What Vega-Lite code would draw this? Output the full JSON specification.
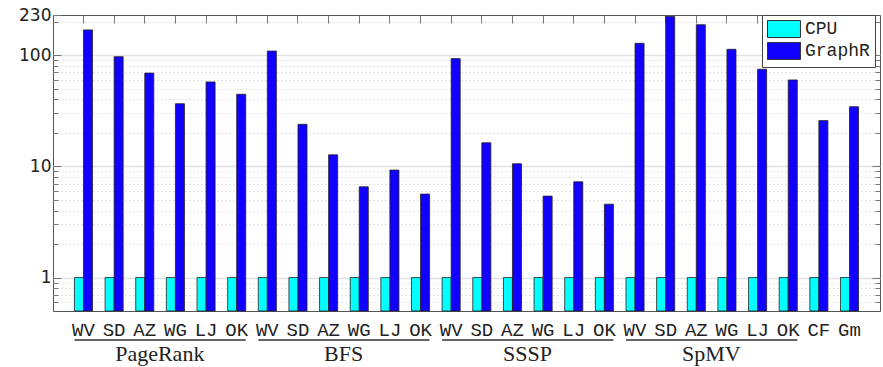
{
  "$schema": "https://vega.github.io/schema/vega-lite/v6.json",
  "autosize": "none",
  "width": 827,
  "height": 296,
  "padding": {"left": 53, "top": 15, "right": 3, "bottom": 56},
  "background": "white",
  "config": {
    "view": {"stroke": "#555", "strokeWidth": 1},
    "axis": {"domain": false, "title": null}
  },
  "datasets": {
    "speed": [
      {"group":"PageRank","cat":"WV","key":"PageRank WV","series":"CPU","value":1},
      {"group":"PageRank","cat":"WV","key":"PageRank WV","series":"GraphR","value":169},
      {"group":"PageRank","cat":"SD","key":"PageRank SD","series":"CPU","value":1},
      {"group":"PageRank","cat":"SD","key":"PageRank SD","series":"GraphR","value":97},
      {"group":"PageRank","cat":"AZ","key":"PageRank AZ","series":"CPU","value":1},
      {"group":"PageRank","cat":"AZ","key":"PageRank AZ","series":"GraphR","value":69},
      {"group":"PageRank","cat":"WG","key":"PageRank WG","series":"CPU","value":1},
      {"group":"PageRank","cat":"WG","key":"PageRank WG","series":"GraphR","value":36.6},
      {"group":"PageRank","cat":"LJ","key":"PageRank LJ","series":"CPU","value":1},
      {"group":"PageRank","cat":"LJ","key":"PageRank LJ","series":"GraphR","value":57.5},
      {"group":"PageRank","cat":"OK","key":"PageRank OK","series":"CPU","value":1},
      {"group":"PageRank","cat":"OK","key":"PageRank OK","series":"GraphR","value":44.5},
      {"group":"BFS","cat":"WV","key":"BFS WV","series":"CPU","value":1},
      {"group":"BFS","cat":"WV","key":"BFS WV","series":"GraphR","value":109},
      {"group":"BFS","cat":"SD","key":"BFS SD","series":"CPU","value":1},
      {"group":"BFS","cat":"SD","key":"BFS SD","series":"GraphR","value":23.9},
      {"group":"BFS","cat":"AZ","key":"BFS AZ","series":"CPU","value":1},
      {"group":"BFS","cat":"AZ","key":"BFS AZ","series":"GraphR","value":12.7},
      {"group":"BFS","cat":"WG","key":"BFS WG","series":"CPU","value":1},
      {"group":"BFS","cat":"WG","key":"BFS WG","series":"GraphR","value":6.55},
      {"group":"BFS","cat":"LJ","key":"BFS LJ","series":"CPU","value":1},
      {"group":"BFS","cat":"LJ","key":"BFS LJ","series":"GraphR","value":9.26},
      {"group":"BFS","cat":"OK","key":"BFS OK","series":"CPU","value":1},
      {"group":"BFS","cat":"OK","key":"BFS OK","series":"GraphR","value":5.63},
      {"group":"SSSP","cat":"WV","key":"SSSP WV","series":"CPU","value":1},
      {"group":"SSSP","cat":"WV","key":"SSSP WV","series":"GraphR","value":93.2},
      {"group":"SSSP","cat":"SD","key":"SSSP SD","series":"CPU","value":1},
      {"group":"SSSP","cat":"SD","key":"SSSP SD","series":"GraphR","value":16.3},
      {"group":"SSSP","cat":"AZ","key":"SSSP AZ","series":"CPU","value":1},
      {"group":"SSSP","cat":"AZ","key":"SSSP AZ","series":"GraphR","value":10.56},
      {"group":"SSSP","cat":"WG","key":"SSSP WG","series":"CPU","value":1},
      {"group":"SSSP","cat":"WG","key":"SSSP WG","series":"GraphR","value":5.4},
      {"group":"SSSP","cat":"LJ","key":"SSSP LJ","series":"CPU","value":1},
      {"group":"SSSP","cat":"LJ","key":"SSSP LJ","series":"GraphR","value":7.27},
      {"group":"SSSP","cat":"OK","key":"SSSP OK","series":"CPU","value":1},
      {"group":"SSSP","cat":"OK","key":"SSSP OK","series":"GraphR","value":4.57},
      {"group":"SpMV","cat":"WV","key":"SpMV WV","series":"CPU","value":1},
      {"group":"SpMV","cat":"WV","key":"SpMV WV","series":"GraphR","value":128},
      {"group":"SpMV","cat":"SD","key":"SpMV SD","series":"CPU","value":1},
      {"group":"SpMV","cat":"SD","key":"SpMV SD","series":"GraphR","value":223},
      {"group":"SpMV","cat":"AZ","key":"SpMV AZ","series":"CPU","value":1},
      {"group":"SpMV","cat":"AZ","key":"SpMV AZ","series":"GraphR","value":188},
      {"group":"SpMV","cat":"WG","key":"SpMV WG","series":"CPU","value":1},
      {"group":"SpMV","cat":"WG","key":"SpMV WG","series":"GraphR","value":113},
      {"group":"SpMV","cat":"LJ","key":"SpMV LJ","series":"CPU","value":1},
      {"group":"SpMV","cat":"LJ","key":"SpMV LJ","series":"GraphR","value":74.8},
      {"group":"SpMV","cat":"OK","key":"SpMV OK","series":"CPU","value":1},
      {"group":"SpMV","cat":"OK","key":"SpMV OK","series":"GraphR","value":59.9},
      {"group":"","cat":"CF","key":"CF","series":"CPU","value":1},
      {"group":"","cat":"CF","key":"CF","series":"GraphR","value":25.8},
      {"group":"","cat":"Gm","key":"Gm","series":"CPU","value":1},
      {"group":"","cat":"Gm","key":"Gm","series":"GraphR","value":34.4}
    ],
    "groups": [
      {"group":"PageRank","from":"PageRank WV","mid":"PageRank AZ","to":"PageRank OK"},
      {"group":"BFS","from":"BFS WV","mid":"BFS AZ","to":"BFS OK"},
      {"group":"SSSP","from":"SSSP WV","mid":"SSSP AZ","to":"SSSP OK"},
      {"group":"SpMV","from":"SpMV WV","mid":"SpMV AZ","to":"SpMV OK"}
    ]
  },
  "resolve": {"axis": {"x": "independent", "y": "independent"}},
  "layer": [
    {
      "data": {"name": "speed"},
      "mark": {"type": "bar", "stroke": "#222", "strokeWidth": 0.8},
      "encoding": {
        "x": {
          "field": "key", "type": "nominal",
          "scale": {
            "domain": ["PageRank WV","PageRank SD","PageRank AZ","PageRank WG","PageRank LJ","PageRank OK",
                       "BFS WV","BFS SD","BFS AZ","BFS WG","BFS LJ","BFS OK",
                       "SSSP WV","SSSP SD","SSSP AZ","SSSP WG","SSSP LJ","SSSP OK",
                       "SpMV WV","SpMV SD","SpMV AZ","SpMV WG","SpMV LJ","SpMV OK","CF","Gm"],
            "paddingInner": 0.41, "paddingOuter": 0.7
          },
          "axis": {
            "orient": "bottom", "ticks": false, "labelAngle": 0, "labelPadding": 9,
            "labelExpr": "peek(split(datum.value, ' '))",
            "labelFont": "Liberation Mono", "labelFontSize": 19, "labelColor": "#222",
            "labelOverlap": false, "labelBound": false
          }
        },
        "xOffset": {"field": "series", "type": "nominal", "scale": {"paddingInner": 0, "paddingOuter": 0}},
        "y": {
          "field": "value", "type": "quantitative",
          "scale": {"type": "log", "domain": [0.5, 230], "nice": false},
          "axis": {
            "orient": "left",
            "values": [0.6,0.7,0.8,0.9,1,2,3,4,5,6,7,8,9,10,20,30,40,50,60,70,80,90,100,200,230],
            "labelExpr": "indexof([1,10,100,230], datum.value) >= 0 ? format(datum.value, 'd') : ''",
            "labelFont": "DejaVu Sans", "labelFontSize": 17, "labelColor": "#222",
            "labelPadding": 10,
            "ticks": true,
            "tickColor": "#777",
            "tickSize": {"condition": {"test": "indexof([1,10,100,230], datum.value) >= 0", "value": -8}, "value": -5},
            "grid": true,
            "gridColor": {"condition": {"test": "indexof([1,10,100], datum.value) >= 0", "value": "#e2e2e2"}, "value": "#c4c4c4"},
            "gridWidth": {"condition": {"test": "indexof([1,10,100], datum.value) >= 0", "value": 1.6}, "value": 1},
            "gridDash": {"condition": {"test": "indexof([1,10,100], datum.value) >= 0", "value": []}, "value": [1, 3]},
            "gridOpacity": {"condition": {"test": "datum.value == 230", "value": 0}, "value": 1},
            "labelOverlap": false
          }
        },
        "y2": {"datum": 0.5},
        "color": {
          "field": "series", "type": "nominal",
          "scale": {"domain": ["CPU", "GraphR"], "range": ["#00FFFF", "#1100FF"]},
          "legend": {
            "title": null, "orient": "none", "legendX": 709, "legendY": 0,
            "direction": "vertical",
            "symbolType": "M-1,-1H2.88V1H-1Z", "symbolSize": 289,
            "symbolStrokeColor": "#333", "symbolStrokeWidth": 1, "symbolOpacity": 1,
            "labelFont": "Liberation Mono", "labelFontSize": 18, "labelColor": "#222",
            "labelOffset": 20, "padding": 5, "rowPadding": 0,
            "strokeColor": "#444", "fillColor": "white"
          }
        }
      }
    },
    {
      "data": {"name": "speed"},
      "mark": {"type": "bar", "opacity": 0},
      "encoding": {
        "x": {"field": "key", "type": "nominal",
              "axis": {"orient": "top", "labels": false, "ticks": true, "tickSize": -8, "tickColor": "#777", "grid": false}},
        "y": {"field": "value", "type": "quantitative",
              "axis": {"orient": "right", "labels": false, "grid": false,
                       "values": [0.6,0.7,0.8,0.9,1,2,3,4,5,6,7,8,9,10,20,30,40,50,60,70,80,90,100,200],
                       "tickColor": "#777",
                       "tickSize": {"condition": {"test": "indexof([1,10,100], datum.value) >= 0", "value": -8}, "value": -5}}},
        "y2": {"datum": 0.5}
      }
    },
    {
      "data": {"name": "groups"},
      "mark": {"type": "rule", "color": "#333", "strokeWidth": 1.5},
      "encoding": {
        "x": {"field": "from", "type": "nominal", "bandPosition": 0, "axis": null},
        "x2": {"field": "to", "bandPosition": 1},
        "y": {"datum": 0.274, "type": "quantitative", "axis": null}
      }
    },
    {
      "data": {"name": "groups"},
      "mark": {"type": "text", "font": "Liberation Serif", "fontSize": 22, "color": "#222", "baseline": "middle", "align": "center", "dx": 15},
      "encoding": {
        "x": {"field": "mid", "type": "nominal", "axis": null},
        "y": {"datum": 0.205, "type": "quantitative", "axis": null},
        "text": {"field": "group"}
      }
    }
  ]
}
